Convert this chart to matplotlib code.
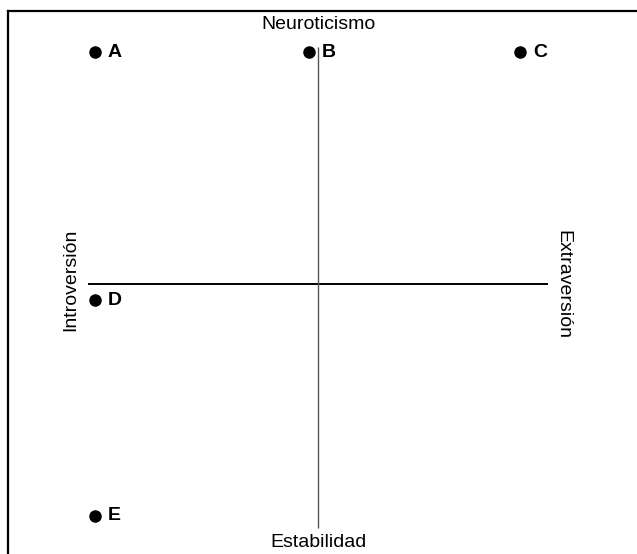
import matplotlib
matplotlib.use("Agg")
import matplotlib.pyplot as plt

# ── Data ──────────────────────────────────────────────────────────────────────
point_labels = ["A", "B", "C", "D", "E"]
point_x = [-0.97, -0.04, 0.88, -0.97, -0.97]
point_y = [1.0, 1.0, 1.0, -0.07, -1.0]

h_axis_span = [-1.0, 1.0]     # Introversión … Extraversión
v_axis_span = [-1.05, 1.02]   # Estabilidad … Neuroticismo

axis_names = {
    "top": "Neuroticismo",
    "bottom": "Estabilidad",
    "left": "Introversión",
    "right": "Extraversión",
}

# ── Style ─────────────────────────────────────────────────────────────────────
plt.rcParams.update({
    "font.family": ["Liberation Sans", "DejaVu Sans"],
    "font.size": 14,
})

fig = plt.figure(figsize=(6.37, 5.54), dpi=100, facecolor="white")
ax = fig.add_axes([8 / 637, 0, 629 / 637, 543 / 554])
ax.set_xlim(-1.348, 1.387)
ax.set_ylim(-1.164, 1.177)

for side in ("right", "bottom"):
    ax.spines[side].set_visible(False)
for side in ("top", "left"):
    ax.spines[side].set_linewidth(1.6)
    ax.spines[side].set_color("black")
ax.set_xticks([])
ax.set_yticks([])

# axes of the diagram
ax.plot(h_axis_span, [0, 0], color="black", lw=1.4, solid_capstyle="butt")
ax.plot([0, 0], v_axis_span, color="#555555", lw=1.0, solid_capstyle="butt")

# points
ax.plot(point_x, point_y, "o", color="black", markersize=8, zorder=3)
for lab, x, y in zip(point_labels, point_x, point_y):
    ax.annotate(lab, (x, y), xytext=(9, 0), textcoords="offset points",
                ha="left", va="center", fontsize=14, fontweight="bold")

# axis names
ax.text(0, 1.12, axis_names["top"], ha="center", va="center")
ax.text(0, -1.116, axis_names["bottom"], ha="center", va="center")
ax.text(-1.074, 0.017, axis_names["left"], ha="center", va="center",
        rotation=90)
ax.text(1.065, 0.0, axis_names["right"], ha="center", va="center",
        rotation=270)

fig.savefig("out.png", dpi=100, facecolor="white")
